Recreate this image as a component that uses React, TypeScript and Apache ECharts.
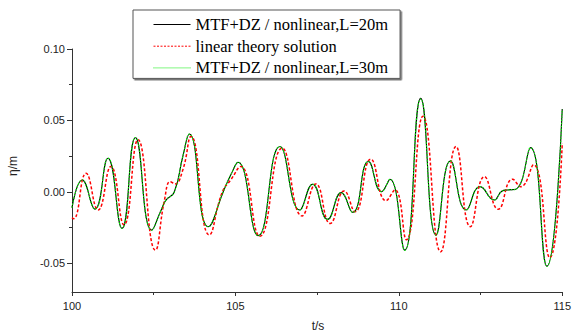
import React, { useEffect, useRef } from "react";
import * as echarts from "echarts";

// L=20m nonlinear (MTF+DZ)
const t20 = [100.0, 100.31, 100.7, 101.1, 101.53, 101.94, 102.44, 102.73, 102.88, 103.13, 103.39, 103.59, 104.17, 104.65, 104.86, 105.08, 105.7, 106.36, 106.97, 107.36, 107.82, 108.24, 108.59, 109.07, 109.47, 109.73, 110.18, 110.67, 111.14, 111.58, 112.06, 112.49, 112.92, 113.15, 113.33, 113.58, 114.03, 114.53, 115.0];
const eta20 = [-0.011, 0.0084, -0.012, 0.0236, -0.0255, 0.0381, -0.0267, -0.0126, -0.0056, 0.0, 0.0248, 0.0405, -0.0243, 0.0014, 0.012, 0.0208, -0.0306, 0.0318, -0.0126, 0.0054, -0.0192, -0.0005, -0.0143, 0.0213, 0.0002, 0.0089, -0.0407, 0.0655, -0.0302, 0.0217, -0.0126, 0.0037, -0.0056, 0.0005, 0.0014, 0.0019, 0.031, -0.052, 0.058];

// linear theory solution
const tLin = [100.0, 100.05, 100.43, 100.8, 101.19, 101.59, 102.02, 102.55, 102.83, 103.01, 103.15, 103.39, 103.64, 104.2, 104.6, 104.86, 105.16, 105.75, 106.43, 107.04, 107.46, 107.9, 108.33, 108.66, 109.14, 109.61, 109.88, 110.23, 110.74, 111.28, 111.75, 112.19, 112.62, 113.04, 113.48, 113.73, 114.12, 114.62, 115.0];
const etaLin = [-0.018, -0.0188, 0.013, -0.0126, 0.0178, -0.023, 0.0365, -0.0407, -0.0056, 0.0072, 0.0056, 0.0154, 0.0388, -0.03, 0.0, 0.0085, 0.0178, -0.031, 0.0306, -0.0168, 0.0056, -0.022, 0.0007, -0.0138, 0.0229, -0.0061, 0.0014, -0.0335, 0.053, -0.0419, 0.0318, -0.0243, 0.0107, -0.0121, 0.0089, 0.0037, 0.019, -0.046, 0.034];

// L=30m nonlinear (MTF+DZ)
const t30 = [100.0, 100.31, 100.7, 101.1, 101.53, 101.94, 102.44, 102.73, 102.88, 103.13, 103.39, 103.59, 104.17, 104.65, 104.86, 105.08, 105.7, 106.36, 106.97, 107.36, 107.82, 108.24, 108.59, 109.07, 109.47, 109.73, 110.18, 110.67, 111.14, 111.58, 112.06, 112.49, 112.92, 113.15, 113.33, 113.58, 114.03, 114.53, 115.0];
const eta30 = [-0.011, 0.0084, -0.012, 0.0236, -0.0255, 0.0381, -0.0267, -0.0126, -0.0056, 0.0, 0.0248, 0.0405, -0.0243, 0.0014, 0.012, 0.0208, -0.0306, 0.0318, -0.0126, 0.0054, -0.0192, -0.0005, -0.0143, 0.0213, 0.0002, 0.0089, -0.0407, 0.065, -0.0302, 0.0217, -0.0126, 0.0037, -0.0056, 0.0005, 0.0014, 0.0019, 0.031, -0.052, 0.058];

const xMajor = [100, 105, 110, 115];
const xMinor = [102.5, 107.5, 112.5];
const yMajor = [0.1, 0.05, 0, -0.05];
const yMinor = [0.075, 0.025, -0.025];

const seriesNames = [
  "MTF+DZ / nonlinear,L=20m",
  "linear theory solution",
  "MTF+DZ / nonlinear,L=30m",
];

const pair = (ts: number[], vs: number[]) => ts.map((t, i) => [t, vs[i]]);

export default function App() {
  const ref = useRef<HTMLDivElement>(null);
  useEffect(() => {
    if (!ref.current) return;
    const chart = echarts.init(ref.current, null, { renderer: "svg" });
    const axisFont = { fontFamily: "Liberation Sans, Arial, sans-serif", fontSize: 11, color: "#222" };
    const lineColor = "#333";
    chart.setOption({
      animation: false,
      backgroundColor: "#fff",
      grid: { left: 72, right: 9, top: 49, bottom: 40, containLabel: false },
      legend: {
        orient: "vertical",
        left: 133,
        top: 10,
        padding: [6, 12, 2, 20],
        backgroundColor: "#fff",
        borderColor: "#555",
        borderWidth: 1,
        shadowColor: "rgba(0,0,0,0.55)",
        shadowOffsetX: 1.5,
        shadowOffsetY: 1.5,
        shadowBlur: 0,
        itemWidth: 37,
        itemHeight: 12,
        itemGap: 4.7,
        itemStyle: { opacity: 0 },
        textStyle: { fontFamily: "Liberation Serif, Times New Roman, serif", fontSize: 16.5, lineHeight: 17, color: "#000" },
        data: [
          { name: seriesNames[0], lineStyle: { width: 1, color: "#000", type: "solid" } },
          { name: seriesNames[1], lineStyle: { width: 1, color: "#ff0000", type: [2, 1.5] } },
          { name: seriesNames[2], lineStyle: { width: 1, color: "#00ee00", type: [1, 1] } },
        ],
      },
      xAxis: [
        {
          type: "value",
          min: 100,
          max: 115,
          axisLine: { show: true, onZero: false, lineStyle: { color: lineColor, width: 1 } },
          axisTick: { show: true, length: 4, customValues: xMajor, lineStyle: { color: lineColor } },
          axisLabel: { ...axisFont, margin: 8, customValues: xMajor, formatter: (v: number) => String(v) },
          splitLine: { show: false },
        },
        {
          type: "value",
          min: 100,
          max: 115,
          position: "bottom",
          axisLine: { show: false, onZero: false },
          axisTick: { show: true, length: 3, customValues: xMinor, lineStyle: { color: lineColor } },
          axisLabel: { show: false },
          splitLine: { show: false },
        },
      ],
      yAxis: [
        {
          type: "value",
          min: -0.07,
          max: 0.1,
          axisLine: { show: true, onZero: false, lineStyle: { color: lineColor, width: 1 } },
          axisTick: { show: true, length: 5, customValues: yMajor, lineStyle: { color: lineColor } },
          axisLabel: { ...axisFont, margin: 7, customValues: yMajor, formatter: (v: number) => v.toFixed(2) },
          splitLine: { show: false },
        },
        {
          type: "value",
          min: -0.07,
          max: 0.1,
          position: "left",
          axisLine: { show: false, onZero: false },
          axisTick: { show: true, length: 3, customValues: yMinor, lineStyle: { color: lineColor } },
          axisLabel: { show: false },
          splitLine: { show: false },
        },
      ],
      graphic: [
        {
          type: "text",
          x: 318,
          y: 326,
          style: { text: "t/s", fontFamily: "Liberation Sans, Arial, sans-serif", fontSize: 12, fill: "#222", textAlign: "center", textVerticalAlign: "middle" },
        },
        {
          type: "text",
          x: 13,
          y: 166,
          rotation: Math.PI / 2,
          style: { text: "η/m", fontFamily: "Liberation Sans, Arial, sans-serif", fontSize: 12, fill: "#222", textAlign: "center", textVerticalAlign: "middle" },
        },
      ],
      series: [
        {
          name: seriesNames[0],
          type: "line",
          smooth: 0.5,
          symbol: "none",
          data: pair(t20, eta20),
          lineStyle: { color: "#000", width: 1.1, type: "solid" },
          itemStyle: { color: "#000" },
        },
        {
          name: seriesNames[1],
          type: "line",
          smooth: 0.5,
          symbol: "none",
          data: pair(tLin, etaLin),
          lineStyle: { color: "#ff0000", width: 1.5, type: [3, 2] },
          itemStyle: { color: "#ff0000" },
        },
        {
          name: seriesNames[2],
          type: "line",
          smooth: 0.5,
          symbol: "none",
          data: pair(t30, eta30),
          lineStyle: { color: "#00ee00", width: 1.2, type: [1.5, 1.5] },
          itemStyle: { color: "#00ee00" },
        },
      ],
    });
    return () => chart.dispose();
  }, []);
  return <div ref={ref} style={{ position: "fixed", left: 0, top: 0, width: 574, height: 332 }} />;
}
